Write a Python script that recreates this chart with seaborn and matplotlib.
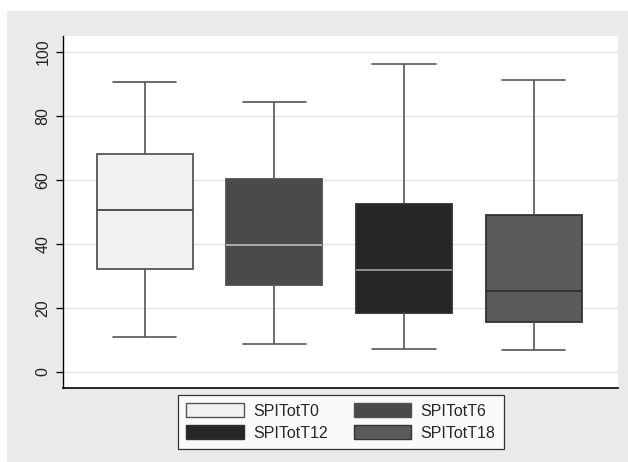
import numpy as np
import pandas as pd
import matplotlib as mpl
mpl.use('Agg')
import matplotlib.pyplot as plt
from matplotlib.patches import Patch, Rectangle
import seaborn as sns

# Five-number summaries (min, Q1, median, Q3, max)
variables = ['SPITotT0', 'SPITotT6', 'SPITotT12', 'SPITotT18']
spi_t0 = [10.8, 32.3, 50.6, 68.2, 90.7]
spi_t6 = [8.9, 27.2, 39.7, 60.4, 84.4]
spi_t12 = [7.3, 18.3, 31.9, 52.6, 96.1]
spi_t18 = [6.9, 15.5, 25.4, 49.0, 91.4]
yticks = [0, 20, 40, 60, 80, 100]

fills = ['#f1f1f1', '#4a4a4a', '#272727', '#5a5a5a']
edges = ['#555555', '#505050', '#2e2e2e', '#333333']
medians = ['#444444', '#b5b5b5', '#9a9a9a', '#2e2e2e']

# Long table for seaborn
df = pd.DataFrame({
    'variable': np.repeat(variables, 5),
    'value': spi_t0 + spi_t6 + spi_t12 + spi_t18,
})

sns.set_style('white')
plt.rcParams['font.family'] = ['Liberation Sans', 'DejaVu Sans']

fig = plt.figure(figsize=(6.28, 4.62), dpi=100, facecolor='white')
# Stata-like grey graph region
fig.patches.append(Rectangle((7 / 628, 0), 1, 1 - 11 / 462, transform=fig.transFigure,
                             facecolor='#eaeaea', edgecolor='none', zorder=-10))
ax = fig.add_axes([63 / 628, 1 - 388 / 462, 555 / 628, 352 / 462])
ax.set_facecolor('white')

sns.boxplot(data=df, x='variable', y='value', hue='variable', palette=fills,
            width=0.74, linewidth=1.2, legend=False, ax=ax)

for i, c in enumerate(ax.containers):
    for b in c.boxes:
        b.set_edgecolor(edges[i])
        b.set_linewidth(1.3)
    for m in c.medians:
        m.set_color(medians[i])
        m.set_linewidth(1.3)
    for w in c.whiskers:
        w.set_color('#555555')
    for cp in c.caps:
        cp.set_color('#555555')
        xs = cp.get_xdata()
        mid = (xs[0] + xs[1]) / 2
        cp.set_xdata([mid - 0.245, mid + 0.245])

ax.set_xlim(-0.63, 3.65)
ax.set_ylim(-5, 105)
ax.set_yticks(yticks)
ax.set_yticklabels([str(t) for t in yticks], rotation=90, va='center', fontsize=11.5, color='#222222')
ax.set_xticks([])
ax.set_xlabel('')
ax.set_ylabel('')
ax.yaxis.grid(True, color='#e4e4e4', linewidth=1.0)
ax.set_axisbelow(True)
ax.tick_params(axis='y', left=True, length=5, width=0.9, color='black', pad=4)
for s in ['top', 'right']:
    ax.spines[s].set_visible(False)
ax.spines['left'].set_color('black')
ax.spines['bottom'].set_color('black')
ax.spines['left'].set_linewidth(1.0)
ax.spines['bottom'].set_linewidth(1.2)

# row-major order as in the reference legend
order = [0, 2, 1, 3]
handles = [Patch(facecolor=fills[i], edgecolor=edges[i], label=variables[i]) for i in order]
leg = fig.legend(handles=handles, loc='center', bbox_to_anchor=(341 / 628, 1 - 422 / 462),
                 ncol=2, fontsize=11.5, frameon=True, fancybox=False, handlelength=3.6,
                 handleheight=0.95, handletextpad=0.6, columnspacing=1.6, labelspacing=0.4,
                 borderpad=0.5)
leg.get_frame().set_edgecolor('black')
leg.get_frame().set_linewidth(0.9)
leg.get_frame().set_facecolor('white')

fig.savefig('out.png', dpi=100, facecolor=fig.get_facecolor())
